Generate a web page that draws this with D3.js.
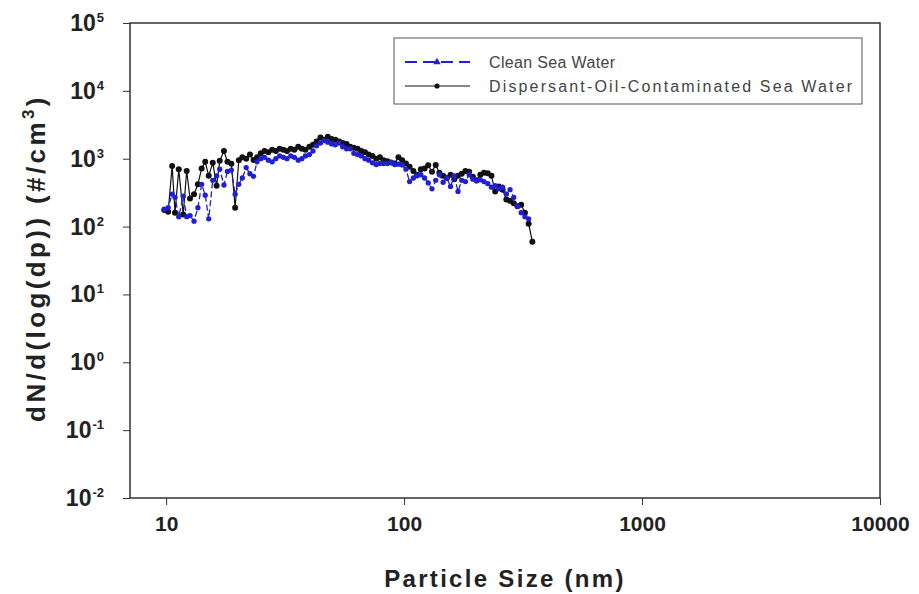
<!DOCTYPE html>
<html>
<head>
<meta charset="utf-8">
<script src="https://cdn.jsdelivr.net/npm/d3@7"></script>
<style>
  body { margin: 0; background: #fff; }
  svg { font-family: 'Liberation Sans', Arial, sans-serif; }
</style>
</head>
<body>
<div id="chart"><svg width="919" height="594"></svg></div>
<script>
// particle diameters (nm), SMPS channels
const SIZES = [9.82, 10.2, 10.6, 10.9, 11.3, 11.8, 12.2, 12.6, 13.1, 13.6, 14.1,
  14.6, 15.1, 15.7, 16.3, 16.8, 17.5, 18.1, 18.8, 19.5, 20.2,
  20.9, 21.7, 22.5, 23.3, 24.1, 25.0, 25.9, 26.9, 27.9, 28.9,
  30.0, 31.1, 32.2, 33.4, 34.6, 35.9, 37.2, 38.5, 40.0, 41.4,
  42.9, 44.5, 46.1, 47.8, 49.6, 51.4, 53.3, 55.2, 57.3, 59.4,
  61.5, 63.8, 66.1, 68.5, 71.0, 73.7, 76.4, 79.1, 82.0, 85.1,
  88.2, 91.4, 94.7, 98.2, 101.8, 105.5, 109.4, 113.4, 117.6, 121.9,
  126.3, 131.0, 135.8, 140.7, 145.9, 151.2, 156.8, 162.5, 168.5, 174.7,
  181.1, 187.7, 194.6, 201.7, 209.1, 216.7, 224.7, 232.9, 241.4, 250.3,
  259.5, 269.0, 278.8, 289.0, 299.6, 310.6, 322.0, 333.8, 346.0];

const CLEAN = [180, 190, 300, 270, 140, 280, 140, 145, 120, 190, 420,
  290, 130, 480, 560, 700, 410, 650, 680, 300, 420,
  520, 740, 600, 550, 900, 1000, 1050, 950, 900, 1000,
  1100, 1050, 1000, 1100, 1050, 950, 1000, 1100, 1150, 1300,
  1550, 1700, 1850, 1750, 1650, 1600, 1700, 1500, 1400, 1400,
  1200, 1150, 1100, 1000, 950, 870, 820, 850, 850, 850,
  880, 820, 830, 810, 700, 460, 520, 560, 580, 520,
  440, 360, 480, 580, 450, 520, 390, 560, 330, 480,
  460, 580, 500, 470, 490, 460, 430, 380, 400, 360,
  380, 300, 350, 270, 200, 160, 140, 130];

const DISPERSANT = [175, 165, 780, 160, 700, 150, 660, 260, 300, 420, 720,
  900, 560, 870, 400, 930, 1300, 900, 840, 190, 950,
  1050, 1000, 1150, 960, 1050, 1200, 1300, 1250, 1350, 1300,
  1400, 1350, 1300, 1400, 1350, 1500, 1400, 1350, 1500, 1600,
  1800, 2050, 1900, 2100, 1950, 1900, 1800, 1700, 1650, 1500,
  1450, 1400, 1300, 1250, 1150, 1100, 1000, 1050, 950, 920,
  880, 850, 1050, 950, 850, 760, 660, 580, 700, 720,
  800, 640, 810, 620, 560, 520, 580, 500, 560, 600,
  660, 640, 540, 480, 580, 620, 610, 560, 330, 390,
  350, 250, 240, 220, 200, 210, 160, 110, 60];

const X_TICKS = [10, 100, 1000, 10000];
const Y_EXPONENTS = [-2, -1, 0, 1, 2, 3, 4, 5];
const SERIES_NAMES = ['Clean Sea Water', 'Dispersant-Oil-Contaminated Sea Water'];

const SVG = d3.select('#chart svg');
const LEFT = 130;
const RIGHT = 880;
const TOP = 23;
const BOTTOM = 498;
const AXIS_COLOR = '#333';
const BLUE = '#1f1fd6';
const BLACK = '#111';

const X_SCALE = d3.scaleLog().domain([7.05, 10000]).range([LEFT, RIGHT]);
const Y_SCALE = d3.scaleLog().domain([1e-2, 1e5]).range([BOTTOM, TOP]);

// frame
SVG.append('rect')
  .attr('x', LEFT)
  .attr('y', TOP)
  .attr('width', RIGHT - LEFT)
  .attr('height', BOTTOM - TOP)
  .style('fill', 'none')
  .style('stroke', AXIS_COLOR)
  .style('stroke-width', 1.5);

// x axis
const X_AXIS = d3.axisBottom(X_SCALE).tickValues(X_TICKS).tickSize(7).tickFormat(d3.format('d'));
const X_AXIS_G = SVG.append('g')
  .attr('id', 'xAxis')
  .attr('transform', `translate(0, ${BOTTOM})`);
X_AXIS(X_AXIS_G);
X_AXIS_G.select('.domain').remove();
X_AXIS_G.selectAll('line').style('stroke', AXIS_COLOR);
X_AXIS_G.selectAll('text')
  .attr('y', 18)
  .attr('dy', '0.71em')
  .style('font-size', '21px')
  .style('font-weight', 'bold')
  .style('fill', '#222');

// y axis
const Y_AXIS = d3.axisLeft(Y_SCALE)
  .tickValues(Y_EXPONENTS.map((e) => Math.pow(10, e)))
  .tickSize(7)
  .tickFormat('');
const Y_AXIS_G = SVG.append('g')
  .attr('id', 'yAxis')
  .attr('transform', `translate(${LEFT}, 0)`);
Y_AXIS(Y_AXIS_G);
Y_AXIS_G.select('.domain').remove();
Y_AXIS_G.selectAll('line').style('stroke', AXIS_COLOR);

Y_EXPONENTS.forEach((e) => {
  const t = SVG.append('text')
    .attr('x', 104)
    .attr('y', Y_SCALE(Math.pow(10, e)) + 8)
    .style('text-anchor', 'end')
    .style('font-weight', 'bold')
    .style('font-size', '23px')
    .style('fill', '#222');
  t.append('tspan').text('10');
  t.append('tspan')
    .attr('dy', -9)
    .attr('dx', 1)
    .style('font-size', '13px')
    .text(e);
});

// axis titles
SVG.append('text')
  .attr('transform', `translate(45, 258) rotate(-90)`)
  .style('text-anchor', 'middle')
  .style('font-weight', 'bold')
  .style('font-size', '26px')
  .style('letter-spacing', '3.4px')
  .style('fill', '#222')
  .call((t) => {
    t.append('tspan').text('dN/d(log(dp)) (#/cm');
    t.append('tspan').attr('dy', -11).style('font-size', '17px').text('3');
    t.append('tspan').attr('dy', 11).text(')');
  });

SVG.append('text')
  .attr('x', 505)
  .attr('y', 587)
  .style('text-anchor', 'middle')
  .style('font-weight', 'bold')
  .style('font-size', '24px')
  .style('letter-spacing', '2.3px')
  .style('fill', '#222')
  .text('Particle Size (nm)');

// data
const CLEAN_DATA = CLEAN.map((v, i) => ({ x: SIZES[i], y: v }));
const DISP_DATA = DISPERSANT.map((v, i) => ({ x: SIZES[i], y: v }));

const LINE = d3.line().x((d) => X_SCALE(d.x)).y((d) => Y_SCALE(d.y));
const CHART = SVG.append('g').attr('id', 'plot');

CHART.append('path')
  .datum(DISP_DATA)
  .attr('d', LINE)
  .style('fill', 'none')
  .style('stroke', BLACK)
  .style('stroke-width', 1.2);
CHART.append('g')
  .selectAll('circle')
  .data(DISP_DATA)
  .join('circle')
  .attr('cx', (d) => X_SCALE(d.x))
  .attr('cy', (d) => Y_SCALE(d.y))
  .attr('r', 3)
  .style('fill', BLACK);

CHART.append('path')
  .datum(CLEAN_DATA)
  .attr('d', LINE)
  .style('fill', 'none')
  .style('stroke', BLUE)
  .style('stroke-width', 1.3)
  .style('stroke-dasharray', '6,3');
CHART.append('g')
  .selectAll('path')
  .data(CLEAN_DATA)
  .join('path')
  .attr('transform', (d) => `translate(${X_SCALE(d.x)}, ${Y_SCALE(d.y)})`)
  .attr('d', d3.symbol().type(d3.symbolCircle).size(22))
  .style('fill', BLUE);

// legend
const LEGEND = SVG.append('g').attr('id', 'legend');
LEGEND.append('rect')
  .attr('x', 394)
  .attr('y', 38)
  .attr('width', 468)
  .attr('height', 66)
  .style('fill', '#fff')
  .style('stroke', '#555')
  .style('stroke-width', 1);

const LEGEND_WIDTHS = [126, 363];
SERIES_NAMES.forEach((name, i) => {
  const y = 62 + i * 24;
  LEGEND.append('line')
    .attr('x1', 405)
    .attr('x2', 470)
    .attr('y1', y)
    .attr('y2', y)
    .style('stroke', i === 0 ? BLUE : BLACK)
    .style('stroke-width', i === 0 ? 1.8 : 1)
    .style('stroke-dasharray', i === 0 ? '12,6' : null);
  if (i === 0) {
    LEGEND.append('path')
      .attr('transform', `translate(437, ${y})`)
      .attr('d', d3.symbol().type(d3.symbolTriangle).size(24))
      .style('fill', BLUE);
  } else {
    LEGEND.append('circle')
      .attr('cx', 437)
      .attr('cy', y)
      .attr('r', 2.6)
      .style('fill', BLACK);
  }
  LEGEND.append('text')
    .attr('x', 489)
    .attr('y', y + 6)
    .attr('textLength', LEGEND_WIDTHS[i])
    .attr('lengthAdjust', 'spacing')
    .style('font-size', '16px')
    .style('fill', '#444')
    .text(name);
});
</script>
</body>
</html>
